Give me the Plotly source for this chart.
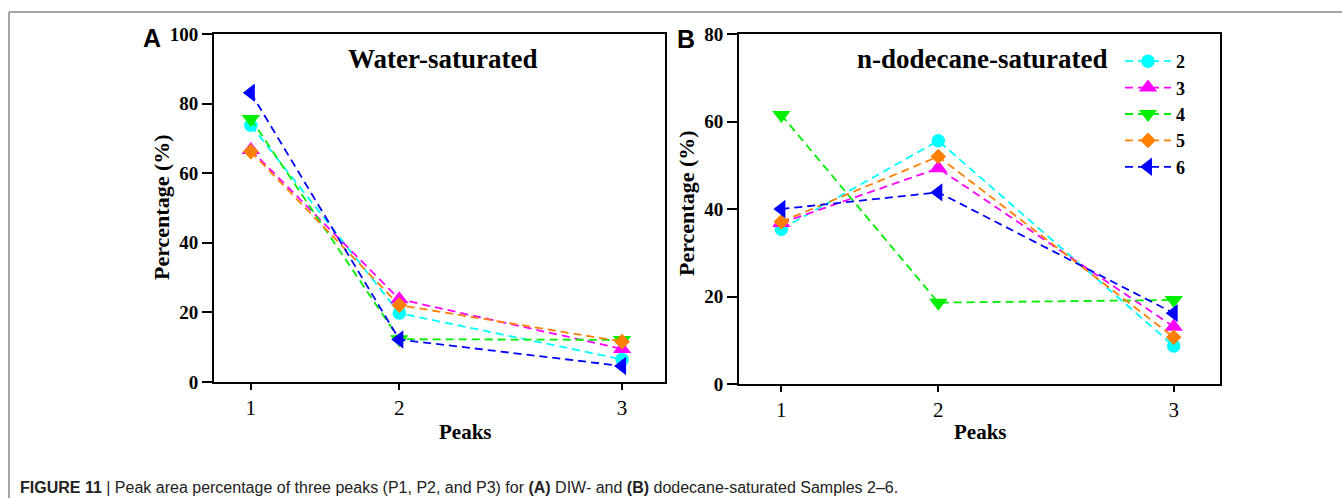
import plotly.graph_objects as go

# ---- data ----
peaks = ["1", "2", "3"]
samples = ["2", "3", "4", "5", "6"]

water_2 = [73.8, 19.8, 6.5]
water_3 = [66.7, 23.8, 9.5]
water_4 = [75.6, 12.3, 12.1]
water_5 = [66.2, 22.1, 11.6]
water_6 = [83.1, 12.2, 4.6]

dodec_2 = [35.4, 55.6, 8.7]
dodec_3 = [36.8, 49.3, 13.1]
dodec_4 = [61.5, 18.6, 19.2]
dodec_5 = [37.1, 52.0, 10.7]
dodec_6 = [40.0, 43.8, 16.2]

water = [water_2, water_3, water_4, water_5, water_6]
dodec = [dodec_2, dodec_3, dodec_4, dodec_5, dodec_6]

# ---- style ----
W, H = 1342, 498
colors = ["#00FFFF", "#FF00FF", "#00EE00", "#FF8000", "#0000FF"]
symbols = ["circle", "triangle-up", "triangle-down", "diamond", "triangle-left"]
msizes = [13.5, 16, 16, 12, 16]
# axis position of each peak category (original axis is unevenly spaced)
peak_pos = {"1": 1.0, "2": 2.0, "3": 3.5}
SERIF = "Liberation Serif, Times New Roman, serif"
SANS = "Liberation Sans, Arial, sans-serif"

def px(x):
    return x / W

def py(y):
    return 1 - y / H

fig = go.Figure()

for panel, (data, xa, ya) in enumerate([(water, "x", "y"), (dodec, "x2", "y2")]):
    for i, s in enumerate(samples):
        fig.add_trace(go.Scatter(
            x=[peak_pos[p] for p in peaks], y=data[i],
            mode="lines+markers", name=s,
            xaxis=xa, yaxis=ya,
            showlegend=(panel == 1),
            line=dict(color=colors[i], width=1.8, dash="8px,5px"),
            marker=dict(color=colors[i], symbol=symbols[i], size=msizes[i], line=dict(width=0)),
        ))

axis_common = dict(showgrid=False, zeroline=False, showline=True, linecolor="black",
                   linewidth=2, mirror=True, ticks="outside", tickcolor="black",
                   tickwidth=1.8, automargin=False)

tickvals = [peak_pos[p] for p in peaks]

fig.update_layout(
    width=W, height=H,
    margin=dict(l=0, r=0, t=0, b=0, pad=0, autoexpand=False),
    paper_bgcolor="white", plot_bgcolor="white",
    xaxis=dict(domain=[px(214), px(665)], range=[0.752, 3.789], anchor="y",
               tickvals=tickvals, ticktext=peaks, ticklen=6,
               tickfont=dict(family=SERIF, size=21, color="black"), **axis_common),
    yaxis=dict(domain=[py(382), py(34)], range=[0, 100], anchor="x", dtick=20, ticklen=10,
               tickfont=dict(family=SERIF, size=19, color="black", weight="bold"), **axis_common),
    xaxis2=dict(domain=[px(739), px(1220)], range=[0.73, 3.795], anchor="y2",
                tickvals=tickvals, ticktext=peaks, ticklen=6,
                tickfont=dict(family=SERIF, size=21, color="black"), **axis_common),
    yaxis2=dict(domain=[py(384), py(34)], range=[0, 80], anchor="x2", dtick=20, ticklen=10,
                tickfont=dict(family=SERIF, size=19, color="black", weight="bold"), **axis_common),
    legend=dict(x=px(1120), y=py(43), xanchor="left", yanchor="top",
                bgcolor="rgba(0,0,0,0)", itemwidth=46,
                font=dict(family=SERIF, size=18, color="black", weight="bold")),
)

ann = [
    dict(text="<b>Water-saturated</b>", x=px(442), y=py(59), size=27, family=SERIF),
    dict(text="<b>n-dodecane-saturated</b>", x=px(982), y=py(59), size=27, family=SERIF),
    dict(text="<b>A</b>", x=px(152), y=py(38), size=25, family=SANS),
    dict(text="<b>B</b>", x=px(686), y=py(39), size=25, family=SANS),
    dict(text="<b>Peaks</b>", x=px(465), y=py(432), size=21, family=SERIF),
    dict(text="<b>Peaks</b>", x=px(980), y=py(432), size=21, family=SERIF),
]
for a in ann:
    fig.add_annotation(text=a["text"], x=a["x"], y=a["y"], xref="paper", yref="paper",
                       showarrow=False, xanchor="center", yanchor="middle",
                       font=dict(family=a["family"], size=a["size"], color="black"))

for xc, yc in [(161, 207), (687, 203)]:
    fig.add_annotation(text="<b>Percentage (%)</b>", x=px(xc), y=py(yc), xref="paper", yref="paper",
                       showarrow=False, textangle=-90, xanchor="center", yanchor="middle",
                       font=dict(family=SERIF, size=22, color="black"))

fig.add_annotation(
    text="<b>FIGURE 11</b> | Peak area percentage of three peaks (P1, P2, and P3) for <b>(A)</b> DIW- and <b>(B)</b> dodecane-saturated Samples 2–6.",
    x=px(18), y=py(487), xref="paper", yref="paper", showarrow=False,
    xanchor="left", yanchor="middle",
    font=dict(family=SANS, size=16, color="#222222"))

# outer frame (top and left edges)
fig.add_shape(type="line", xref="paper", yref="paper", x0=px(9), x1=1, y0=py(12), y1=py(12),
              line=dict(color="#888888", width=1.5))
fig.add_shape(type="line", xref="paper", yref="paper", x0=px(9), x1=px(9), y0=py(12), y1=0,
              line=dict(color="#888888", width=1.5))

fig.write_html("out.html")
